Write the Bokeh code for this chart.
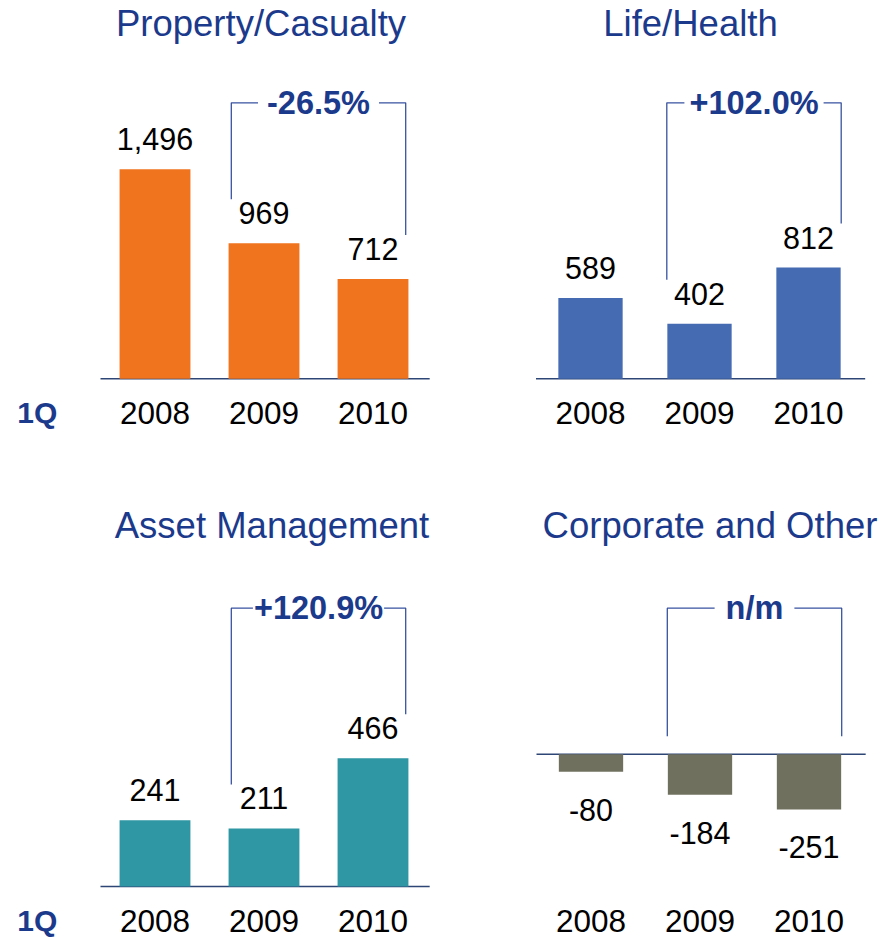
from bokeh.plotting import figure
from bokeh.layouts import gridplot
from bokeh.models import Range1d, ColumnDataSource
from bokeh.core.properties import value
from bokeh.embed import file_html
from bokeh.resources import INLINE

# ---- data ----
years = ["2008", "2009", "2010"]
pc_values = [1496, 969, 712]
lh_values = [589, 402, 812]
am_values = [241, 211, 466]
co_values = [-80, -184, -251]
titles = ["Property/Casualty", "Life/Health", "Asset Management", "Corporate and Other"]
changes = ["-26.5%", "+102.0%", "+120.9%", "n/m"]
period_label = "1Q"

# ---- styles ----
FONT = value("Liberation Sans")
W, H = 442, 469
STEP = 109.0
NAVY = "#1C3A8C"
BRACKET = "#3852A0"
BASELINE = "#2E4676"
colors = ["#F0731E", "#456BB2", "#2E97A3", "#70705F"]

layouts = [
    dict(x0=154.5, base=378.3, scale=0.140, title_row=23, year_row=412, br_top=102.3, tdx=-3, pad=9, bw=0.65, q=True),
    dict(x0=148.0, base=378.3, scale=0.137, title_row=23, year_row=412, br_top=102.3, tdx=-9, pad=5, bw=0.59, q=False),
    dict(x0=154.5, base=417.0, scale=0.275, title_row=56, year_row=451, br_top=138.7, tdx=8, pad=1, bw=0.65, q=True),
    dict(x0=148.5, base=284.7, scale=0.220, title_row=56, year_row=451, br_top=138.7, tdx=10, pad=11, bw=0.59, q=False),
]


def fmt(v):
    return f"{v:,}"


def panel(vals, title, change, color, cfg):
    scale, base, x0 = cfg["scale"], cfg["base"], cfg["x0"]

    def yd(px):
        return (base - px) / scale

    p = figure(width=W, height=H,
               x_range=Range1d(-x0 / STEP, (W - x0) / STEP),
               y_range=Range1d(yd(H), yd(0)),
               output_backend="svg", toolbar_location=None,
               min_border=0, x_axis_location=None, y_axis_location=None,
               outline_line_color=None, background_fill_color="white")
    p.grid.visible = False

    idx = list(range(len(years)))
    label_y = [v + 30 / scale if v >= 0 else v - 38 / scale for v in vals]
    src = ColumnDataSource(dict(x=idx, v=vals, year=years,
                                label=[fmt(v) for v in vals], ly=label_y,
                                yy=[yd(cfg["year_row"])] * len(idx)))

    # baseline
    p.segment(x0=[-0.5], y0=[0], x1=[2.52], y1=[0], line_color=BASELINE, line_width=1.5)
    # bars
    p.vbar(x="x", top="v", bottom=0, width=cfg["bw"], source=src,
           fill_color=color, line_color=None)
    # value labels
    p.text(x="x", y="ly", text="label", source=src, text_font=FONT,
           text_font_size="30.5px", text_align="center", text_baseline="middle",
           text_color="black")
    # year labels
    p.text(x="x", y="yy", text="year", source=src, text_font=FONT,
           text_font_size="31.5px", text_align="center", text_baseline="middle",
           text_color="black")
    # title
    p.text(x=[1 + cfg["tdx"] / STEP], y=[yd(cfg["title_row"])], text=[title],
           text_font=FONT, text_font_size="36.5px", text_align="center",
           text_baseline="middle", text_color=NAVY)
    # bracket
    top = yd(cfg["br_top"])
    xl, xr = 1 - 0.3, 2 + 0.3

    def gap(v):
        return v + 44 / scale if v > 0 else 18 / scale
    p.line(x=[xl, xl, xr, xr], y=[gap(vals[1]), top, top, gap(vals[2])],
           line_color=BRACKET, line_width=1.3)
    p.text(x=[1.5], y=[top], text=[change], text_font=FONT, text_font_size="32.5px",
           text_font_style="bold", text_align="center", text_baseline="middle",
           text_color=NAVY, background_fill_color="white", padding=cfg["pad"])
    if cfg["q"]:
        p.text(x=[(16.7 - x0) / STEP], y=[yd(cfg["year_row"])], text=[period_label],
               text_font=FONT, text_font_size="30px", text_font_style="bold",
               text_align="left", text_baseline="middle", text_color=NAVY)
    return p


series = [pc_values, lh_values, am_values, co_values]
plots = [panel(series[i], titles[i], changes[i], colors[i], layouts[i]) for i in range(4)]
grid = gridplot([[plots[0], plots[1]], [plots[2], plots[3]]], toolbar_location=None)

open("out.html", "w").write(file_html(grid, INLINE))
